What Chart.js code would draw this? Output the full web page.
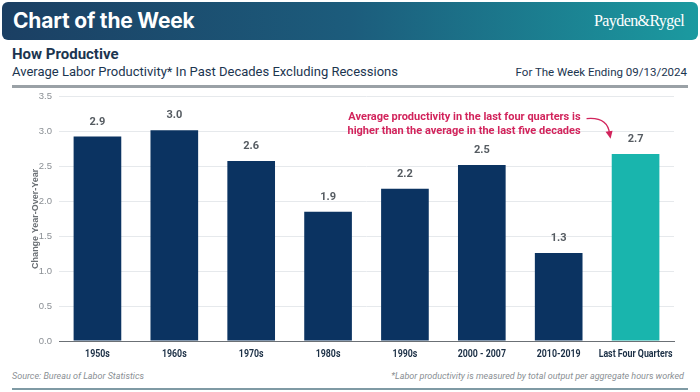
<!DOCTYPE html>
<html>
<head>
<meta charset="utf-8">
<script src="https://cdn.jsdelivr.net/npm/chart.js@4"></script>
<style>
  body { margin: 0; width: 700px; height: 392px; background: #fff; position: relative; overflow: hidden; font-family: "Roboto", sans-serif; }
  #banner { position: absolute; left: 2px; top: 2px; width: 696px; height: 38px; border-radius: 6px;
    background: linear-gradient(90deg, #1b3f63 0%, #1c5c7c 50%, #1b9aa0 100%); }
  #banner .title { position: absolute; left: 11px; top: 6px; color: #fff; font: bold 21px "Inter", sans-serif; letter-spacing: -0.2px; }
  #banner .logo { position: absolute; right: 14px; top: 10px; color: #fff; font: 16px "Liberation Serif", serif; letter-spacing: -0.6px; }
  .head { position: absolute; left: 12px; top: 45px; color: #1b3550; font: bold 15px "Roboto", sans-serif; }
  .sub { position: absolute; left: 12px; top: 64px; color: #1b3550; font: 13px "Roboto", sans-serif; }
  .week { position: absolute; right: 13px; top: 65px; color: #1b3550; font: 11.5px "Roboto", sans-serif; }
  .rule { position: absolute; left: 12px; top: 85px; width: 676px; height: 3px; background: #9aa1a6; }
  #wrap { position: absolute; left: 0; top: 84px; width: 700px; height: 282px; }
  .src { position: absolute; left: 12px; top: 371px; color: #8a8f94; font: italic 9px "Roboto", sans-serif; }
  .note { position: absolute; right: 16px; top: 371px; color: #8a8f94; font: italic 9px "Roboto", sans-serif; }
  .rule2 { position: absolute; left: 12px; top: 388px; width: 676px; height: 2px; background: #7f9aa4; }
</style>
</head>
<body>
<div id="banner"><div class="title">Chart of the Week</div><div class="logo">Payden&amp;Rygel</div></div>
<div class="head">How Productive</div>
<div class="sub">Average Labor Productivity* In Past Decades Excluding Recessions</div>
<div class="week">For The Week Ending 09/13/2024</div>
<div class="rule"></div>
<div id="wrap"><canvas id="chart"></canvas></div>
<div class="src">Source: Bureau of Labor Statistics</div>
<div class="note">*Labor productivity is measured by total output per aggregate hours worked</div>
<div class="rule2"></div>

<script>
const categories = ["1950s", "1960s", "1970s", "1980s", "1990s", "2000 - 2007", "2010-2019", "Last Four Quarters"];
const productivity = [2.93, 3.02, 2.58, 1.85, 2.18, 2.52, 1.26, 2.68];
const valueLabels = ["2.9", "3.0", "2.6", "1.9", "2.2", "2.5", "1.3", "2.7"];
const barColors = ["#0b3361", "#0b3361", "#0b3361", "#0b3361", "#0b3361", "#0b3361", "#0b3361", "#19b5ad"];
const noteLines = ["Average productivity in the last four quarters is", "higher than the average in the last five decades"];

// value labels above each bar
const barLabels = {
    id: "barLabels",
    afterDatasetsDraw(chart) {
        const ctx = chart.ctx;
        const meta = chart.getDatasetMeta(0);
        ctx.save();
        ctx.font = "bold 11px Roboto";
        ctx.fillStyle = "#555b61";
        ctx.textAlign = "center";
        ctx.textBaseline = "bottom";
        meta.data.forEach((bar, i) => {
            ctx.fillText(valueLabels[i], bar.x, bar.y - 9);
        });
        ctx.restore();
    }
};

// condensed bold category labels under the axis
const xLabels = {
    id: "xLabels",
    afterDraw(chart) {
        const ctx = chart.ctx;
        const x = chart.scales.x;
        ctx.save();
        ctx.font = "bold 11px Roboto";
        ctx.fillStyle = "#1b2f45";
        ctx.textAlign = "center";
        ctx.textBaseline = "middle";
        categories.forEach((c, i) => {
            ctx.save();
            ctx.translate(x.getPixelForValue(i), x.bottom - 12);
            ctx.scale(0.8, 1);
            ctx.fillText(c, 0, 0);
            ctx.restore();
        });
        ctx.restore();
    }
};

// callout text + curved arrow pointing at the last bar
const callout = {
    id: "callout",
    afterDatasetsDraw(chart) {
        const ctx = chart.ctx;
        const bar = chart.getDatasetMeta(0).data[7];
        const y = chart.scales.y;
        const right = bar.x - 55;
        const top = y.getPixelForValue(3.2);
        ctx.save();
        ctx.font = "bold 11px Roboto";
        ctx.fillStyle = "#d2245c";
        ctx.textAlign = "right";
        ctx.textBaseline = "middle";
        ctx.fillText(noteLines[0], right, top);
        ctx.fillText(noteLines[1], right, top + 14);

        // arrow
        const sx = right + 6, sy = top + 1;
        const ex = bar.x - 26, ey = top + 20;
        ctx.strokeStyle = "#d2245c";
        ctx.lineWidth = 1.3;
        ctx.beginPath();
        ctx.moveTo(sx, sy);
        ctx.quadraticCurveTo(ex - 2, sy - 2, ex, ey - 4);
        ctx.stroke();
        ctx.beginPath();
        ctx.moveTo(ex - 4, ey - 6);
        ctx.lineTo(ex + 1, ey + 1);
        ctx.lineTo(ex + 3, ey - 7);
        ctx.closePath();
        ctx.fillStyle = "#d2245c";
        ctx.fill();
        ctx.restore();
    }
};

new Chart(document.getElementById("chart"), {
    type: "bar",
    data: {
        labels: categories,
        datasets: [{
            data: productivity,
            backgroundColor: barColors,
            categoryPercentage: 1,
            barPercentage: 0.62
        }]
    },
    options: {
        responsive: true,
        maintainAspectRatio: false,
        animation: false,
        layout: { padding: { top: 0, right: 26, left: 22, bottom: 0 } },
        plugins: { legend: { display: false }, tooltip: { enabled: false } },
        scales: {
            x: {
                grid: { display: false },
                border: { color: "#6b7075", width: 1 },
                ticks: { display: false },
                afterFit(scale) { scale.height = 25; }
            },
            y: {
                min: 0,
                max: 3.5,
                ticks: { stepSize: 0.5, color: "#8a8f94", font: { size: 9.5 }, padding: 7,
                    callback: v => v.toFixed(1) },
                grid: { color: "#e6e9ec", drawTicks: false },
                border: { display: false },
                title: { display: true, text: "Change Year-Over-Year", color: "#6b7075",
                    font: { size: 9, weight: "bold" }, padding: { top: 8, bottom: 0 } },
                afterFit(scale) { scale.width = 37; }
            }
        }
    },
    plugins: [barLabels, callout, xLabels]
});
</script>
</body>
</html>
